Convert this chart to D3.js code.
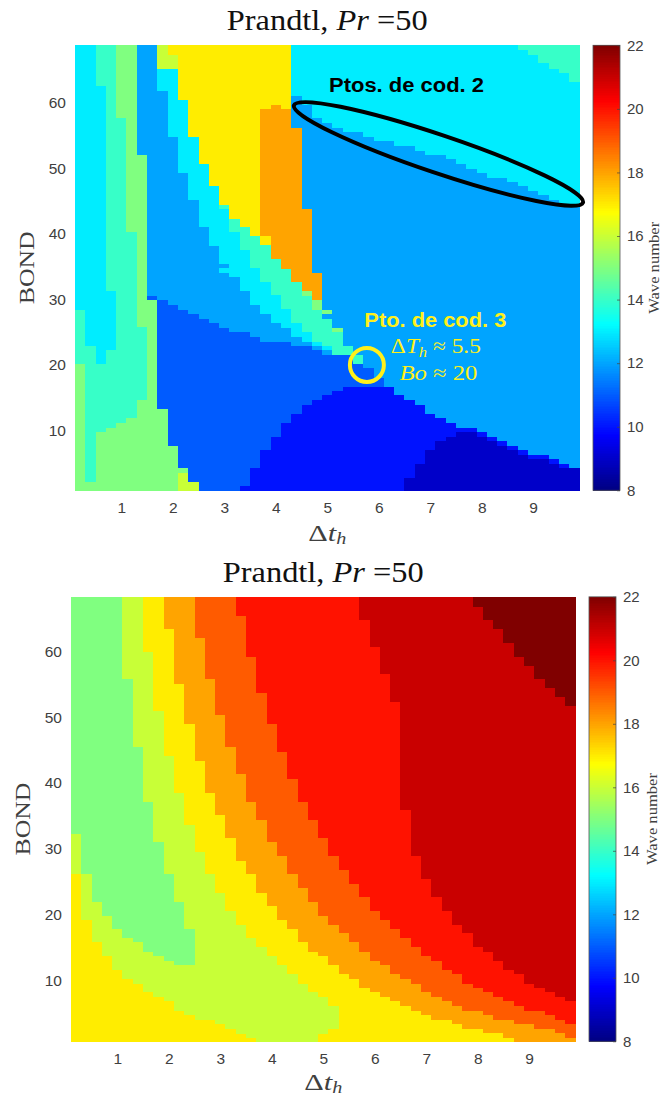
<!DOCTYPE html>
<html><head><meta charset="utf-8">
<script src="https://cdn.jsdelivr.net/npm/d3@7"></script>
<style>html,body{margin:0;padding:0;background:#fff;overflow:hidden}svg{display:block}</style>
</head><body><div id="c"></div>
<script>
const dtTicks=[1,2,3,4,5,6,7,8,9];
const boTicks=[10,20,30,40,50,60];
const waveTicks=[8,10,12,14,16,18,20,22];
const cellWidth=0.2, firstDt=0.1;
// each column, bottom to top: wave number, upper Bond limit, wave number, upper Bond limit ...
const upperRuns=[
[15,20.4,14,28.7,13,69],
[15,2.3,14,23.2,13,69],
[15,10,14,20.4,13,62.8,14,69],
[15,10.6,14,22.45,13,31.5,14,69],
[15,11.35,14,57.9,15,69],
[15,12.1,14,40.5,15,69],
[15,14.8,14,26,15,52.3,12,69],
[15,30.1,11,30.76,12,69],
[15,13.5,11,30.1,12,62.05,13,65.5,16,69],
[15,7.9,11,29.4,12,55.07,13,65.5,16,67.66,17,69],
[16,3.75,15,4.46,11,28.7,12,49.6,13,60.7,17,69],
[16,2.37,11,28,12,45.4,13,55.1,17,69],
[11,27.3,12,41.26,13,50.9,17,69],
[11,26.6,12,38.45,13,47.5,17,69],
[11,25.9,12,34.3,13,35,12,35.7,13,44,14,44.65,17,69],
[11,25.25,12,33.6,13,40.5,14,42.6,17,69],
[10,1.7,11,25.25,12,31.5,13,37.75,14,41.26,17,69],
[10,4.46,11,24.55,12,29.4,13,35,14,39.9,17,69],
[10,7.16,11,23.8,12,28,13,32.9,14,38.5,17,39.9,18,59.3,17,69],
[10,9.25,11,23.8,12,26.6,13,30.9,14,36.4,18,60,17,69],
[10,11.35,11,23.8,12,25.9,13,28.8,14,34.9,18,59.3,17,69],
[10,12.77,11,23.2,12,24.5,13,26.7,14,32.9,18,56.5,12,61.4,13,69],
[10,14.15,11,23.2,12,23.8,13,25.25,14,30.76,15,31.5,18,44,12,59.9,13,69],
[10,14.9,11,22.45,12,23.2,13,23.8,14,28.7,15,30.1,18,34.3,12,57.9,13,69],
[10,15.6,11,21.8,12,22.45,13,23.2,14,27.3,12,28,15,28.7,12,57.2,13,69],
[10,16.2,11,21.8,14,25.25,15,25.9,12,56.5,13,69],
[10,16.9,11,21.8,14,23.2,12,55.8,13,69],
[10,16.9,11,20.4,14,21.8,12,55.8,13,69],
[10,16.9,11,19.7,12,55.1,13,69],
[10,16.9,11,18.3,12,54.4,13,69],
[10,16.9,12,54.4,13,69],
[10,15.6,12,53.75,13,69],
[9,3.03,10,14.9,12,53.75,13,69],
[9,5.1,10,14.15,12,53,13,69],
[9,7.16,10,12.77,12,52.3,13,69],
[9,8.6,10,12.06,12,52.3,13,69],
[9,9.25,10,11.35,12,51.65,13,69],
[9,9.97,10,10.63,12,50.9,13,69],
[9,9.97,10,10.63,12,50.2,13,69],
[9,9.25,10,9.97,12,49.6,13,69],
[9,8.6,10,9.25,12,48.85,13,69],
[9,7.88,10,8.6,12,48.85,13,69],
[9,7.16,10,7.88,12,48.2,13,69],
[9,6.5,10,7.16,12,47.5,13,68.3,14,69],
[9,5.8,10,6.5,12,46.8,13,67.66,14,69],
[9,5.8,10,6.5,12,46.15,13,66.3,14,69],
[9,5.1,10,5.8,12,45.4,13,65.5,14,69],
[9,4.46,10,5.1,12,44.7,13,64.85,14,69],
[9,4.46,12,44.4,13,63.5,14,69]
];
const lowerRuns=[
[17,26.6,16,32.86,15,69],
[17,19.66,16,26.6,15,69],
[17,16.2,16,22.4,15,69],
[17,14.1,16,20.3,15,69],
[17,12.06,16,18.2,15,69],
[17,10.6,16,16.85,15,56.5,16,69],
[17,9.9,16,16.2,15,46.1,16,69],
[17,8.55,16,14.76,15,37.75,16,60.6,17,69],
[17,7.8,16,14.1,15,31.5,16,51.66,17,69],
[17,7.2,16,13.4,15,26.6,16,44.7,17,64.1,18,69],
[17,5.74,16,12.7,15,22.4,16,39.1,17,55.8,18,69],
[17,5.1,16,12.7,15,18.2,16,34.2,17,49.6,18,69],
[17,4.4,16,30,17,44,18,62.7,19,69],
[17,4.4,16,26.6,17,39.1,18,56.5,19,69],
[17,3.65,16,23.8,17,35.66,18,50.95,19,69],
[17,2.9,16,21,17,32.2,18,46.1,19,69],
[17,2.2,16,18.9,17,28.7,18,41.9,19,66.2,20,69],
[17,1.6,16,16.85,17,26.6,18,37.75,19,59.9,20,69],
[16,15.5,17,23.8,18,34.95,19,54.4,20,69],
[16,14.1,17,21.75,18,31.5,19,49.6,20,69],
[16,12.7,17,19.66,18,29.4,19,45.4,20,69],
[16,11.3,17,18.2,18,26.6,19,41.2,20,69],
[16,9.9,17,16.2,18,24.5,19,37.75,20,69],
[16,8.55,17,14.76,18,22.4,19,34.95,20,69],
[17,2.26,16,7.8,17,14.1,18,20.3,19,32.2,20,69],
[17,2.9,16,6.45,17,12.7,18,18.9,19,29.4,20,69],
[17,11.3,18,17.6,19,27.3,20,69],
[17,10.6,18,16.2,19,25.2,20,69],
[17,9.26,18,14.76,19,23.1,20,65.5,21,69],
[17,8.55,18,13.4,19,21,20,61.35,21,69],
[17,7.8,18,12.7,19,19.66,20,57.2,21,69],
[17,7.2,18,11.3,19,18.2,20,53,21,69],
[17,6.45,18,10.6,19,16.85,20,36.4,21,69],
[17,5.74,18,9.9,19,15.5,20,29.4,21,69],
[17,5.08,18,8.55,19,14.1,20,25.9,21,69],
[17,4.37,18,7.83,19,13.4,20,23.1,21,69],
[17,4.37,18,7.2,19,12,20,21,21,69],
[17,3.65,18,6.45,19,11.3,20,18.9,21,69],
[17,2.94,18,5.74,19,9.9,20,17.6,21,69],
[17,2.94,18,5.74,19,9.26,20,15.5,21,67.56,22,69],
[17,2.28,18,5.08,19,8.55,20,14.76,21,65.5,22,69],
[17,2.28,18,4.37,19,7.83,20,13.4,21,64.1,22,69],
[17,1.6,18,4.37,19,7.2,20,12,21,62.06,22,69],
[18,3.65,19,6.45,20,11.3,21,59.9,22,69],
[18,3.65,19,5.74,20,9.9,21,58.5,22,69],
[18,2.94,19,5.74,20,9.26,21,56.45,22,69],
[18,2.94,19,5.08,20,8.55,21,55.1,22,69],
[18,2.28,19,4.37,20,7.83,21,53.7,22,69],
[18,1.6,19,3.65,20,7.2,21,52.3,22,69]
];
const ink='#404040', serif='"Liberation Serif","DejaVu Serif",serif', sans='"Liberation Sans",Arial,sans-serif';
const jet=d3.scaleLinear().domain([8,9.75,13.25,16.75,20.25,22])
  .range(['#000080','#0000ff','#00ffff','#ffff00','#ff0000','#800000']).interpolate(d3.interpolateRgb).clamp(true);
const svg=d3.select('#c').append('svg').attr('width',661).attr('height',1097);

function panel(runs,left,top,width,height,boAxisDomain,labelGap,barLabelGap){
  const x=d3.scaleLinear().domain([firstDt,firstDt+cellWidth*runs.length]).range([left,left+width]);
  const y=d3.scaleLinear().domain([1,69]).range([top+height,top]);
  const yAxis=d3.scaleLinear().domain(boAxisDomain).range([top+height,top]);
  const g=svg.append('g');
  runs.forEach((col,i)=>{
    const cells=d3.range(0,col.length,2).map(k=>({w:col[k],hi:col[k+1],lo:k?col[k-1]:1}));
    g.append('g').selectAll('rect').data(cells).join('rect')
      .attr('shape-rendering','crispEdges')
      .attr('x',x(firstDt+i*cellWidth)).attr('width',x(firstDt+(i+1)*cellWidth)-x(firstDt+i*cellWidth)+.5)
      .attr('y',d=>y(d.hi)).attr('height',d=>y(d.lo)-y(d.hi)+.5)
      .attr('fill',d=>jet(d.w));
  });
  const xa=g.append('g').attr('transform',`translate(0,${top+height})`)
    .call(d3.axisBottom(x).tickValues(dtTicks).tickSize(0).tickPadding(12).tickFormat(d3.format('d')));
  const ya=g.append('g').attr('transform',`translate(${left},0)`)
    .call(d3.axisLeft(yAxis).tickValues(boTicks).tickSize(0).tickPadding(9).tickFormat(d3.format('d')));
  [xa,ya].forEach(a=>{a.select('.domain').remove();
    a.selectAll('text').attr('font-family',sans).attr('font-size',15.5).attr('fill',ink);});

  const cx=left+width/2;
  const title=g.append('text').attr('x',cx).attr('y',top-15).attr('text-anchor','middle')
    .attr('font-family',serif).attr('font-size',29).attr('fill','#111')
    .attr('textLength',201).attr('lengthAdjust','spacingAndGlyphs');
  title.append('tspan').text('Prandtl, ');
  title.append('tspan').attr('font-style','italic').text('Pr');
  title.append('tspan').text(' =50');

  const xl=g.append('text').attr('x',cx).attr('y',top+height+labelGap).attr('text-anchor','middle')
    .attr('font-family',serif).attr('font-size',24).attr('fill',ink)
    .attr('textLength',38).attr('lengthAdjust','spacingAndGlyphs');
  xl.append('tspan').text('Δ');
  xl.append('tspan').attr('font-style','italic').text('t');
  xl.append('tspan').attr('font-style','italic').attr('font-size',16).attr('dy',3).text('h');

  g.append('text').attr('transform',`translate(${left-41},${top+height/2}) rotate(-90)`)
    .attr('text-anchor','middle').attr('font-family',serif).attr('font-size',22).attr('fill',ink)
    .attr('textLength',73).attr('lengthAdjust','spacingAndGlyphs').text('BOND');

  const barX=left+width+13.5, barW=27;
  const c=d3.scaleLinear().domain([8,22]).range([top+height,top]);
  const levels=d3.range(8,22,14/256);
  g.append('g').selectAll('rect').data(levels).join('rect').attr('shape-rendering','crispEdges')
    .attr('x',barX).attr('width',barW).attr('y',d=>c(d+14/256)).attr('height',d=>c(d)-c(d+14/256)+.6).attr('fill',d=>jet(d+7/256));
  g.append('rect').attr('x',barX).attr('y',top).attr('width',barW).attr('height',height)
    .attr('fill','none').attr('stroke','#555').attr('stroke-width',.8);
  const ca=g.append('g').attr('transform',`translate(${barX+barW},0)`)
    .call(d3.axisRight(c).tickValues(waveTicks).tickSize(-3).tickPadding(7).tickFormat(d3.format('d')));
  ca.select('.domain').remove();
  ca.selectAll('line').attr('stroke','#444').attr('stroke-width',.7);
  ca.selectAll('text').attr('font-family',sans).attr('font-size',15).attr('fill',ink);
  g.append('text').attr('transform',`translate(${barX+barW+barLabelGap},${top+height/2}) rotate(-90)`)
    .attr('text-anchor','middle').attr('font-family',serif).attr('font-size',15).attr('fill',ink)
    .attr('textLength',92).attr('lengthAdjust','spacingAndGlyphs').text('Wave number');
  return {x,y};
}

const up=panel(upperRuns,75,45.3,504.5,445,[0.885,68.72],51,38.5);
panel(lowerRuns,71,596.8,504.5,444.5,[0.72,68.3],49,41.3);

// annotations on the upper panel
const yellow='#FFF01A';
const cx2=up.x(7.16), cy2=up.y(52.4);
svg.append('ellipse').attr('cx',cx2).attr('cy',cy2).attr('rx',152.5).attr('ry',19)
  .attr('transform',`rotate(18.6 ${cx2} ${cy2})`).attr('fill','none').attr('stroke','#000').attr('stroke-width',4);
svg.append('circle').attr('cx',up.x(5.77)).attr('cy',up.y(20.15)).attr('r',17)
  .attr('fill','none').attr('stroke',yellow).attr('stroke-width',4);
svg.append('text').attr('x',up.x(6.54)).attr('y',up.y(61.9)).attr('text-anchor','middle')
  .attr('font-family',sans).attr('font-weight',700).attr('font-size',20).attr('fill','#000')
  .attr('textLength',155).attr('lengthAdjust','spacingAndGlyphs').text('Ptos. de cod. 2');
svg.append('text').attr('x',up.x(7.1)).attr('y',up.y(26)).attr('text-anchor','middle')
  .attr('font-family',sans).attr('font-weight',700).attr('font-size',20).attr('fill',yellow)
  .attr('textLength',142).attr('lengthAdjust','spacingAndGlyphs').text('Pto. de cod. 3');
const m1=svg.append('text').attr('x',up.x(7.11)).attr('y',up.y(22)).attr('text-anchor','middle')
  .attr('font-family',serif).attr('font-size',21).attr('fill',yellow)
  .attr('textLength',90).attr('lengthAdjust','spacingAndGlyphs');
m1.append('tspan').text('Δ');
m1.append('tspan').attr('font-style','italic').text('T');
m1.append('tspan').attr('font-style','italic').attr('font-size',15).attr('dy',4).text('h');
m1.append('tspan').attr('dy',-4).text(' ≈ 5.5');
const m2=svg.append('text').attr('x',up.x(7.16)).attr('y',up.y(17.85)).attr('text-anchor','middle')
  .attr('font-family',serif).attr('font-size',21).attr('fill',yellow)
  .attr('textLength',78).attr('lengthAdjust','spacingAndGlyphs');
m2.append('tspan').attr('font-style','italic').text('Bo');
m2.append('tspan').text(' ≈ 20');
</script></body></html>
